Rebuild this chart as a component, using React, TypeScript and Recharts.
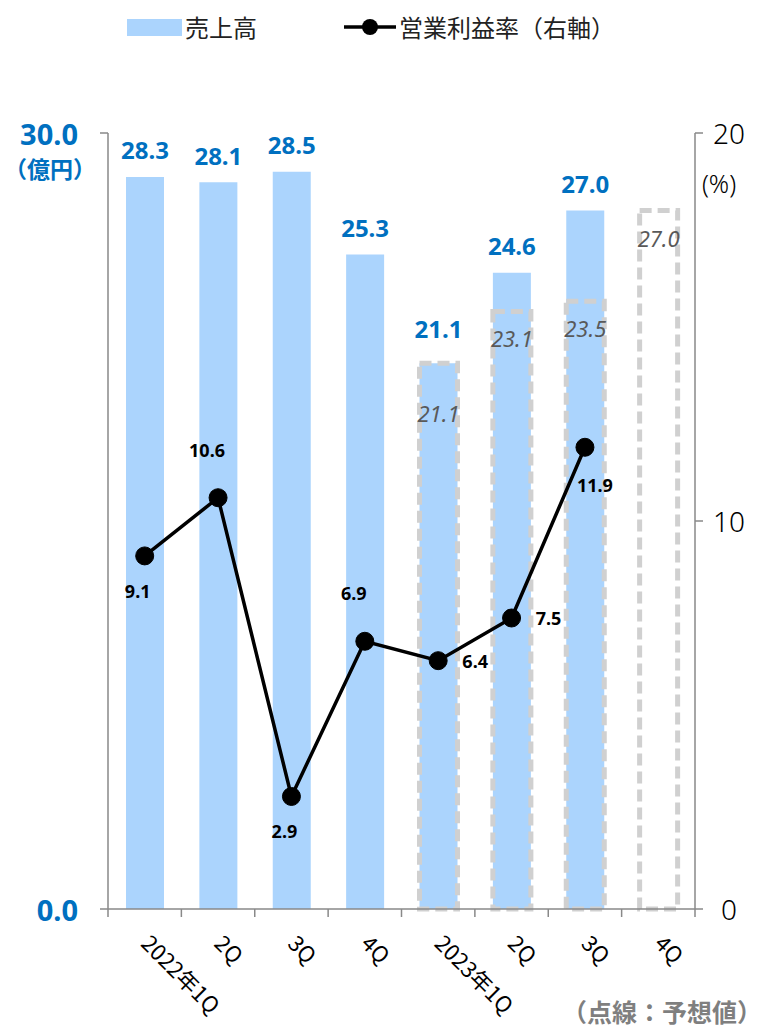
import React from 'react';
import { ComposedChart, Bar, Line, XAxis, YAxis, LabelList } from 'recharts';

const quarters = ['2022年1Q', '2Q', '3Q', '4Q', '2023年1Q', '2Q', '3Q', '4Q'];
const sales = [28.3, 28.1, 28.5, 25.3, 21.1, 24.6, 27.0, null];
const salesForecast = [null, null, null, null, 21.1, 23.1, 23.5, 27.0];
const marginRate = [9.1, 10.6, 2.9, 6.9, 6.4, 7.5, 11.9, null];
const leftTicks = [0, 30];
const rightTicks = [0, 10, 20];

// where each margin label sits around its dot
const rateLabelSide = ['below', 'above', 'below', 'above', 'right', 'right', 'belowRight', 'below'];

const data = quarters.map((q, i) => ({
  q,
  sales: sales[i],
  forecast: salesForecast[i],
  rate: marginRate[i],
}));

const W = 767;
const H = 1028;
const LEFT_W = 108;
const RIGHT_W = 72;
const HALF_BAND = (W - LEFT_W - RIGHT_W) / quarters.length / 2;

const BLUE = '#0070c0';
const BAR_FILL = '#abd4fd';
const NUM_FONT = '"Noto Sans", sans-serif';
const JP_FONT = '"Noto Sans CJK JP", sans-serif';

const XTick = (props: any) => {
  const { x, y, payload, index } = props;
  return (
    <g>
      <line x1={x - HALF_BAND} y1={y} x2={x - HALF_BAND} y2={y + 8} stroke="#898989" strokeWidth={1.5} />
      {index === quarters.length - 1 && (
        <line x1={x + HALF_BAND} y1={y} x2={x + HALF_BAND} y2={y + 8} stroke="#898989" strokeWidth={1.5} />
      )}
      <text
        x={x - 5}
        y={y + 36}
        transform={`rotate(45 ${x - 5} ${y + 36})`}
        textAnchor="start"
        fontSize={22}
        fontFamily={JP_FONT}
        fill="#000"
      >
        {payload.value}
      </text>
    </g>
  );
};

const LeftTick = (props: any) => {
  const { x, y, payload } = props;
  return (
    <g>
      <text x={x - 20} y={y} textAnchor="end" dominantBaseline="central" fontSize={29} fontWeight={700} fontFamily={NUM_FONT} fill={BLUE}>
        {payload.value.toFixed(1)}
      </text>
      {payload.value === 30 && (
        <text x={x - 48} y={y + 35} textAnchor="middle" dominantBaseline="central" fontSize={23} fontWeight={700} fontFamily={JP_FONT} fill={BLUE}>
          （億円）
        </text>
      )}
    </g>
  );
};

const RightTick = (props: any) => {
  const { x, y, payload } = props;
  return (
    <g>
      <text x={x + 24} y={y} textAnchor="middle" dominantBaseline="central" fontSize={28} fontWeight={300} fontFamily={NUM_FONT} fill="#000">
        {payload.value}
      </text>
      {payload.value === 20 && (
        <text x={x + 14} y={y + 50} textAnchor="middle" dominantBaseline="central" fontSize={25} fontWeight={300} fontFamily={NUM_FONT} fill="#000">
          (%)
        </text>
      )}
    </g>
  );
};

const SalesLabel = (props: any) => {
  const { x, y, width, value } = props;
  if (value == null) return null;
  const i = sales.indexOf(value);
  const f = salesForecast[i];
  const lift = f != null && f >= value ? 35 : 27;
  return (
    <text x={x + width / 2} y={y - lift} textAnchor="middle" dominantBaseline="central" fontSize={24} fontWeight={700} fontFamily={NUM_FONT} fill={BLUE}>
      {value.toFixed(1)}
    </text>
  );
};

const ForecastLabel = (props: any) => {
  const { x, y, width, value } = props;
  if (value == null) return null;
  const i = salesForecast.indexOf(value);
  const s = sales[i];
  const drop = s != null && s <= value ? 50 : 27;
  return (
    <text x={x + width / 2} y={y + drop} textAnchor="middle" dominantBaseline="central" fontSize={22} fontStyle="italic" fontFamily={NUM_FONT} fill="#595959">
      {value.toFixed(1)}
    </text>
  );
};

const RateLabel = (props: any) => {
  const { x, y, value, index } = props;
  if (value == null) return null;
  const side = rateLabelSide[index];
  let dx = -7;
  let dy = 35;
  if (side === 'above') { dx = -11; dy = -48; }
  if (side === 'right') { dx = 37; dy = 0; }
  if (side === 'belowRight') { dx = 10; dy = 38; }
  return (
    <text x={x + dx} y={y + dy} textAnchor="middle" dominantBaseline="central" fontSize={18} fontWeight={700} fontFamily={NUM_FONT} fill="#000">
      {value.toFixed(1)}
    </text>
  );
};

export default function App() {
  return (
    <div style={{ position: 'absolute', left: 0, top: 0, width: W, height: H, background: '#fff', overflow: 'hidden' }}>
      <div style={{ position: 'absolute', left: 127, top: 12, display: 'flex', alignItems: 'center', fontFamily: JP_FONT, fontSize: 24, color: '#222', lineHeight: '30px' }}>
        <span style={{ display: 'inline-block', width: 55, height: 17, background: BAR_FILL, marginRight: 3 }} />
        <span>売上高</span>
        <svg width={54} height={20} style={{ marginLeft: 86 }}>
          <line x1={1} y1={10} x2={53} y2={10} stroke="#000" strokeWidth={3.5} />
          <circle cx={27} cy={10} r={8} fill="#000" />
        </svg>
        <span style={{ marginLeft: 2 }}>営業利益率（右軸）</span>
      </div>
      <ComposedChart width={W} height={H} data={data} margin={{ top: 133, right: 0, bottom: 19, left: 0 }} barGap={-38}>
        <XAxis
          dataKey="q"
          height={100}
          interval={0}
          tick={<XTick />}
          tickLine={false}
          tickSize={0}
          tickMargin={0}
          axisLine={{ stroke: '#898989', strokeWidth: 1.5 }}
        />
        <YAxis
          yAxisId="left"
          width={LEFT_W}
          domain={[0, 30]}
          ticks={leftTicks}
          tick={<LeftTick />}
          tickSize={8}
          tickLine={{ stroke: '#898989', strokeWidth: 1.5 }}
          axisLine={{ stroke: '#898989', strokeWidth: 1.5 }}
        />
        <YAxis
          yAxisId="right"
          orientation="right"
          width={RIGHT_W}
          domain={[0, 20]}
          ticks={rightTicks}
          tick={<RightTick />}
          tickSize={8}
          tickLine={{ stroke: '#898989', strokeWidth: 1.5 }}
          axisLine={{ stroke: '#898989', strokeWidth: 1.5 }}
        />
        <Bar yAxisId="left" dataKey="sales" barSize={38} fill={BAR_FILL} isAnimationActive={false}>
          <LabelList dataKey="sales" content={<SalesLabel />} />
        </Bar>
        <Bar
          yAxisId="left"
          dataKey="forecast"
          barSize={38}
          fill="none"
          stroke="#d0d0d0"
          strokeWidth={5}
          strokeDasharray="12 6"
          isAnimationActive={false}
        >
          <LabelList dataKey="forecast" content={<ForecastLabel />} />
        </Bar>
        <Line
          yAxisId="right"
          dataKey="rate"
          stroke="#000"
          strokeWidth={3.5}
          dot={{ r: 9, fill: '#000', stroke: '#000', strokeWidth: 1 }}
          label={<RateLabel />}
          isAnimationActive={false}
        />
      </ComposedChart>
      <div style={{ position: 'absolute', left: 562, top: 993, fontFamily: JP_FONT, fontSize: 25, fontWeight: 700, color: '#7f7f7f', whiteSpace: 'nowrap' }}>
        （点線：予想値）
      </div>
    </div>
  );
}
